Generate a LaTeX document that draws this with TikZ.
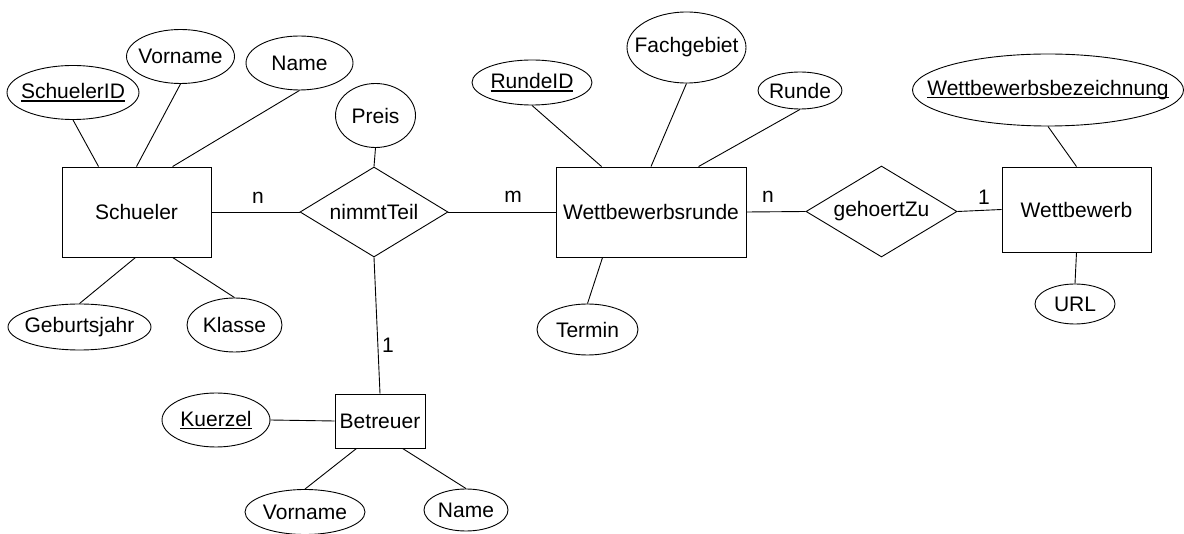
\documentclass[tikz,border=0pt]{standalone}
\usepackage{fontspec}
\setmainfont{Liberation Sans}
\usetikzlibrary{shapes.geometric}
% underlined primary-key attribute
\newcommand\keyattr[1]{\setbox0\hbox{#1}\rlap{\rule[-3pt]{\wd0}{1.5pt}}\box0}
\begin{document}
\begin{tikzpicture}[x=1pt,y=-1pt,line width=0.9pt,
  every node/.style={font=\fontsize{21}{25}\selectfont,inner sep=0pt},
  every label/.style={font=\fontsize{21}{25}\selectfont,inner sep=0pt},
  entity/.style={draw,rectangle,inner sep=0pt},
  attr/.style={draw,ellipse,inner sep=0pt},
  relation/.style={draw,diamond,inner sep=0pt}]
\useasboundingbox (0,0) rectangle (1184,534);

% entities
\node[entity,minimum width=149pt,minimum height=90pt] (schueler) at (136.5,212) {Schueler};
\node[entity,minimum width=190pt,minimum height=90pt] (wr) at (651,212) {Wettbewerbsrunde};
\node[entity,minimum width=149pt,minimum height=85pt] (wb) at (1076.5,209.5) {Wettbewerb};
\node[entity,minimum width=90pt,minimum height=54pt] (betreuer) at (380,421) {Betreuer};

% relationships
\node[relation,minimum width=148pt,minimum height=90pt,label=center:nimmtTeil] (nt) at (374,212) {};
\node[relation,minimum width=151pt,minimum height=91pt,label=center:gehoertZu] (gz) at (881.5,211.5) {};

% attributes of Schueler
\node[attr,minimum width=132pt,minimum height=54pt,label=center:\keyattr{SchuelerID}] (sid) at (73,92.5) {};
\node[attr,minimum width=108pt,minimum height=54pt,label=center:Vorname] (vn1) at (180.5,56.5) {};
\node[attr,minimum width=107pt,minimum height=54pt,label=center:Name] (nm1) at (299.5,63) {};
\node[attr,minimum width=143pt,minimum height=46pt,label=center:Geburtsjahr] (geb) at (79.5,327) {};
\node[attr,minimum width=95pt,minimum height=54pt,label=center:Klasse] (kl) at (234.5,325) {};

% attribute of nimmtTeil
\node[attr,minimum width=80pt,minimum height=64pt,label=center:Preis] (preis) at (375.5,115.5) {};

% attributes of Wettbewerbsrunde
\node[attr,minimum width=120pt,minimum height=45pt,label=center:\keyattr{RundeID}] (rid) at (532,82.5) {};
\node[attr,minimum width=119pt,minimum height=71pt,label=center:Fachgebiet] (fach) at (686.5,47.5) {};
\node[attr,minimum width=84pt,minimum height=37pt,label=center:Runde] (runde) at (800,90.5) {};
\node[attr,minimum width=101pt,minimum height=51pt,label=center:Termin] (termin) at (587.5,329.5) {};

% attributes of Wettbewerb
\node[attr,minimum width=271pt,minimum height=72pt,label=center:\keyattr{Wettbewerbsbezeichnung}] (wbz) at (1048,90) {};
\node[attr,minimum width=80pt,minimum height=40pt,label=center:URL] (url) at (1075,304) {};

% attributes of Betreuer
\node[attr,minimum width=108pt,minimum height=54pt,label=center:\keyattr{Kuerzel}] (kz) at (216,420) {};
\node[attr,minimum width=120pt,minimum height=45pt,label=center:Vorname] (vn2) at (305,512) {};
\node[attr,minimum width=84pt,minimum height=42pt,label=center:Name] (nm2) at (466,510) {};

% cardinalities
\node (c1) at (258,198) {n};
\node (c2) at (513,197) {m};
\node (c3) at (768,197) {n};
\node (c4) at (984,197) {1};
\node (c5) at (388,345) {1};

% relationship lines
\draw (schueler.east) -- (nt.west);
\draw (nt.east) -- (wr.west);
\draw (wr.east) -- (gz.west);
\draw (gz.east) -- (wb.west);
\draw (nt.south) -- (betreuer.north);

% attribute lines
\draw (sid.south) -- ([xshift=37pt]schueler.north west);
\draw (vn1.south) -- (schueler.north);
\draw (nm1.south) -- ([xshift=111pt]schueler.north west);
\draw ([xshift=74pt]schueler.south west) -- (geb.north);
\draw ([xshift=111pt]schueler.south west) -- (kl.north);
\draw (preis.south) -- (nt.north);
\draw (rid.south) -- ([xshift=46pt]wr.north west);
\draw (fach.south) -- (wr.north);
\draw (runde.south) -- ([xshift=143pt]wr.north west);
\draw ([xshift=47pt]wr.south west) -- (termin.north);
\draw (wbz.south) -- (wb.north);
\draw (wb.south) -- (url.north);
\draw (kz.east) -- (betreuer.west);
\draw ([xshift=22pt]betreuer.south west) -- (vn2.north);
\draw ([xshift=68pt]betreuer.south west) -- (nm2.north);
\end{tikzpicture}
\end{document}
